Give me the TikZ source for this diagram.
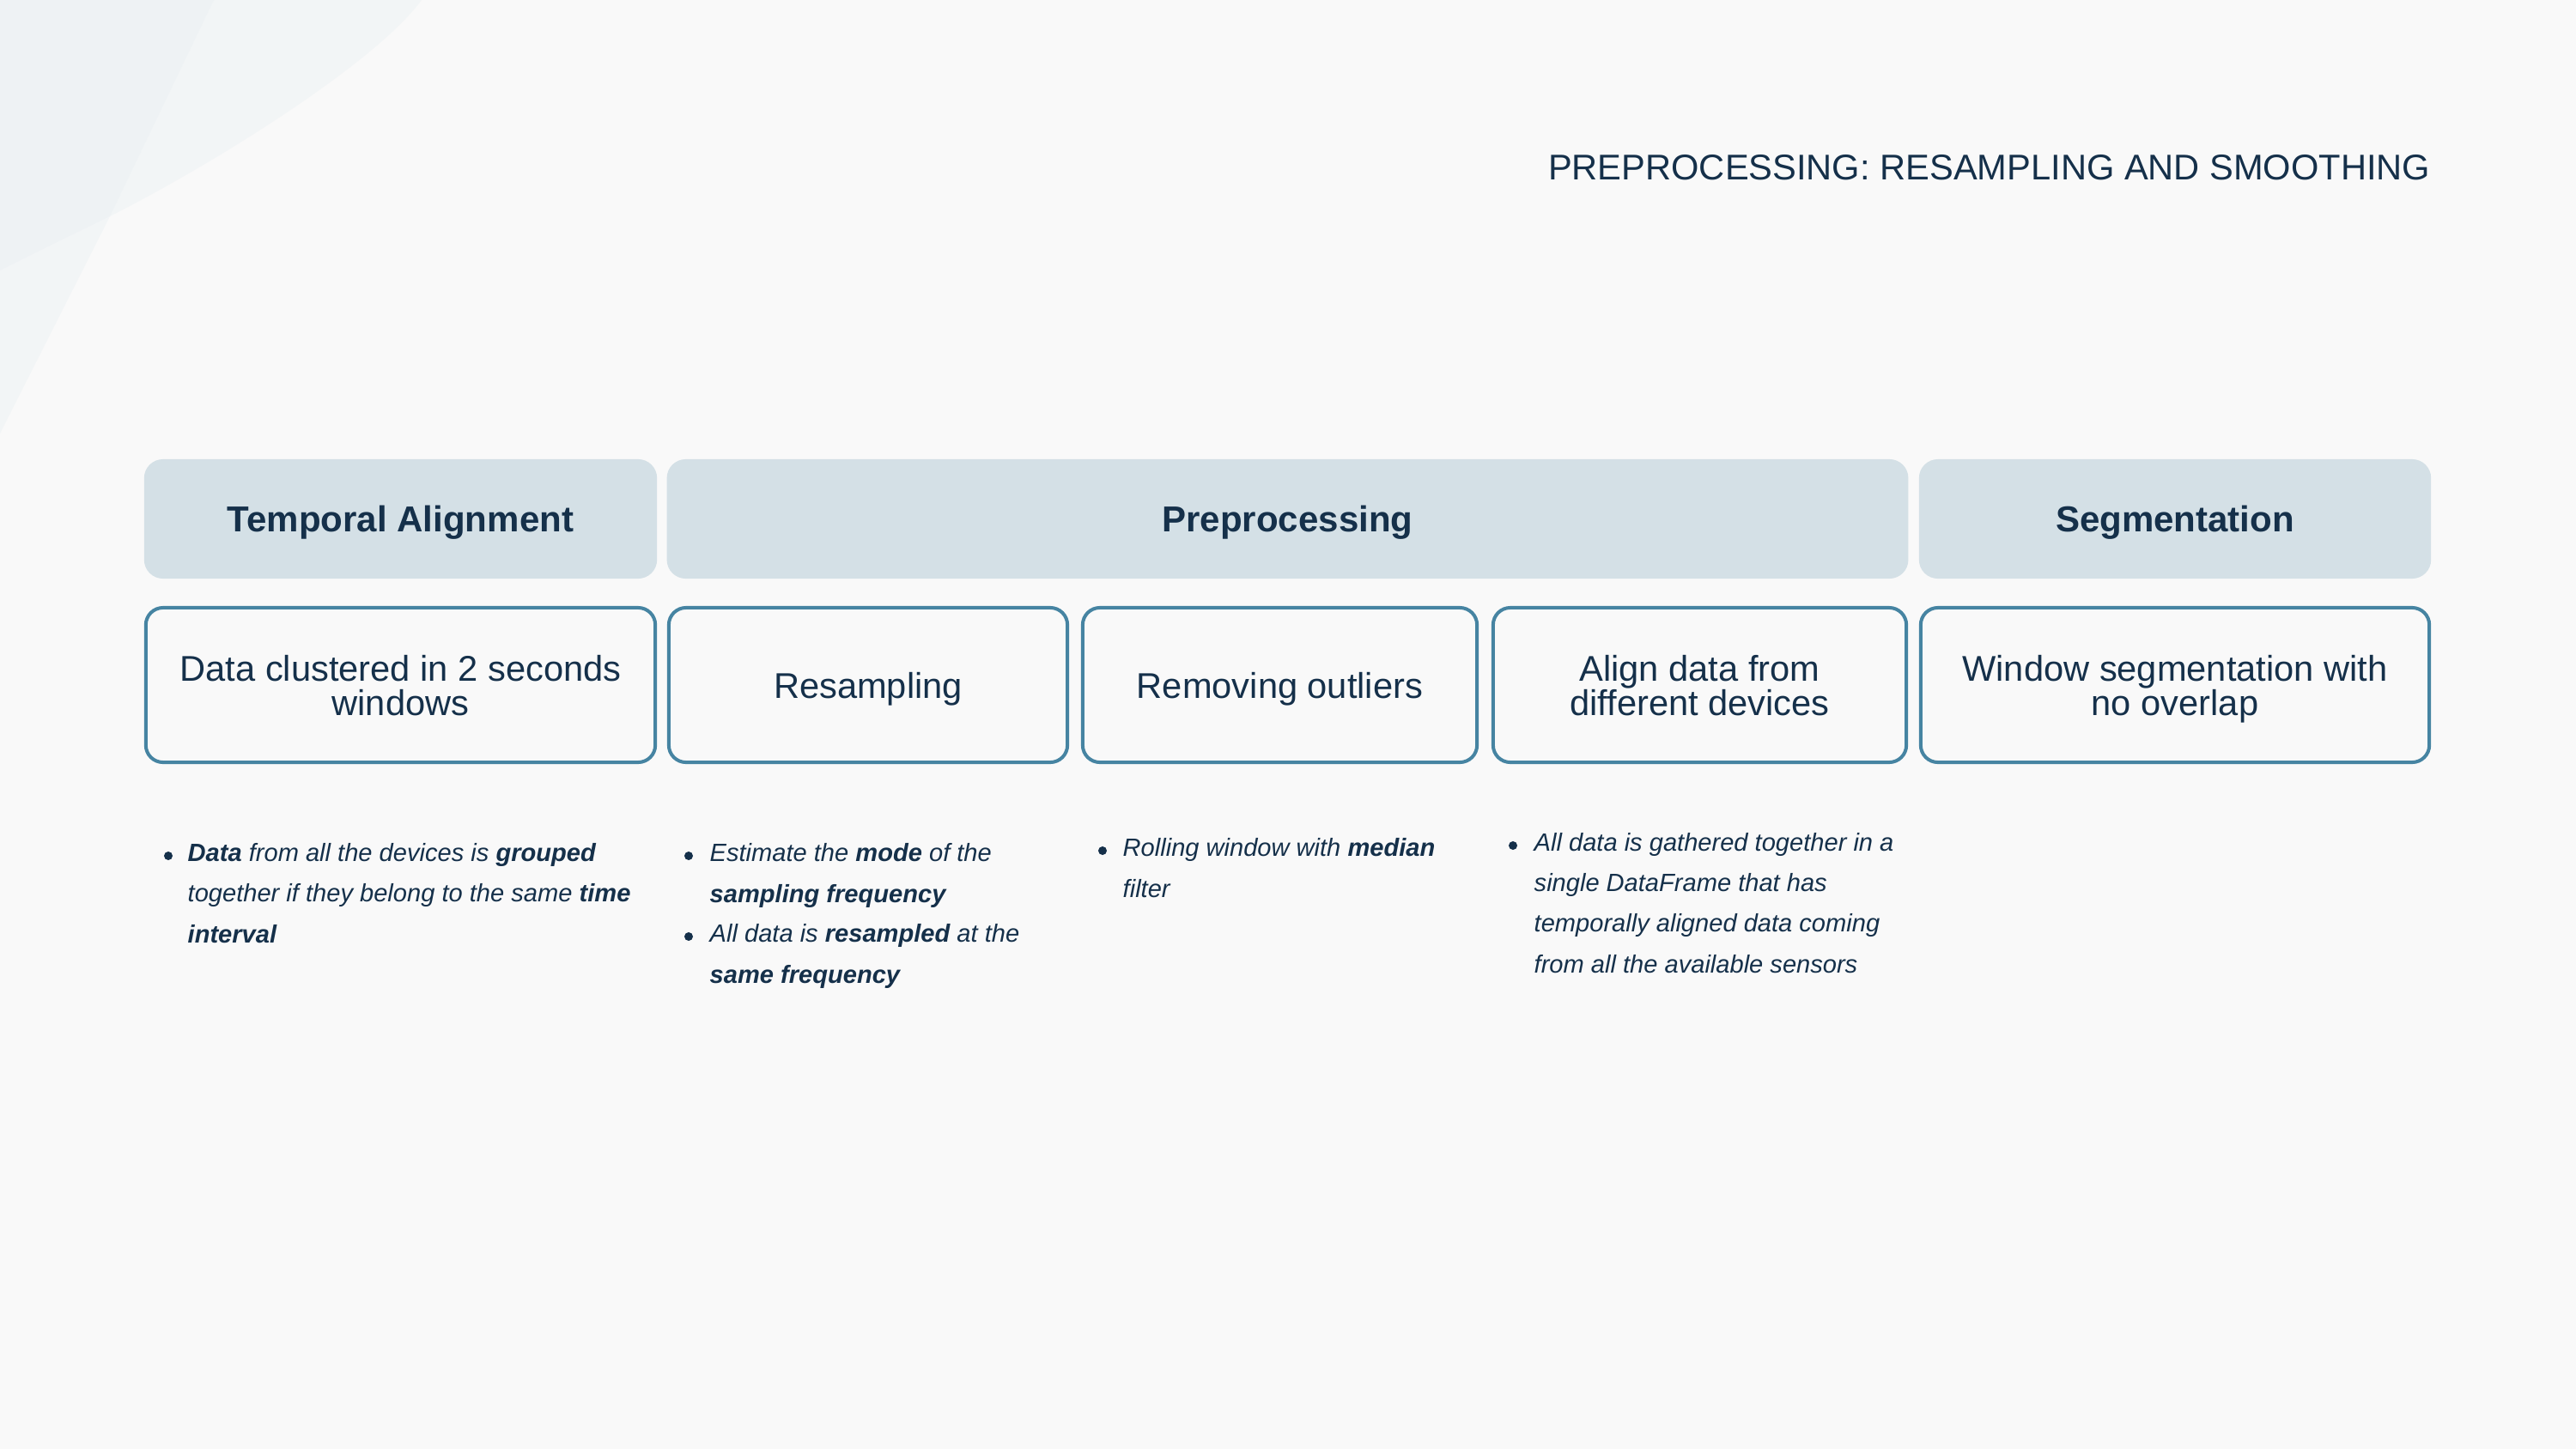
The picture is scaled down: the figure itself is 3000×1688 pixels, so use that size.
\documentclass[tikz,border=0pt]{standalone}
\usepackage{fontspec}
\setmainfont{Liberation Sans}

\definecolor{pagebg}{HTML}{F9F9F9}
\definecolor{wash}{HTML}{E9EFF3}
\definecolor{ink}{HTML}{15304A}
\definecolor{headfill}{HTML}{D4E0E6}
\definecolor{stepline}{HTML}{4684A2}

% keep the last line of a box label from adding descender depth
\newcommand{\flatline}[1]{\raisebox{0pt}[\height][0pt]{#1}}

\begin{document}
\begin{tikzpicture}[
  x=0.01cm, y=-0.01cm,
  headbox/.style={fill=headfill, rounded corners=0.22cm, minimum height=1.39cm,
    inner sep=0pt, text=ink, text depth=0pt,
    font=\bfseries\fontsize{11.95pt}{11.4pt}\selectfont},
  stepbox/.style={draw=stepline, line width=0.04cm, rounded corners=0.2cm,
    minimum height=1.8cm, inner sep=0pt, align=center, text=ink,
    font=\fontsize{11.84pt}{11.38pt}\selectfont},
  % notes are placed by the baseline of their last line
  notetext/.style={anchor=base west, align=left, inner sep=0pt, text=ink,
    font=\itshape\fontsize{8.27pt}{13.37pt}\selectfont},
  bulletdot/.style={circle, fill=ink, minimum size=0.1cm, inner sep=0pt},
]
% page
\path[use as bounding box, fill=pagebg] (0,0) rectangle (3000,1688);

% soft shapes in the upper left corner
\fill[wash, opacity=0.4] (0,0) -- (491,0)
  .. controls (440,70) and (260,185) .. (128,252)
  .. controls (85,273) and (40,295) .. (0,315) -- cycle;
\fill[wash, opacity=0.4] (0,0) -- (249,0) -- (128,252) -- (0,505) -- cycle;

% title
\node[anchor=base east, inner sep=0pt, text=ink,
  font=\fontsize{11.84pt}{14pt}\selectfont] (title) at (2831,209)
  {PREPROCESSING: RESAMPLING AND SMOOTHING};

% stage headers
\node[headbox, minimum width=5.97cm] (hTA) at (466.5,604.5) {Temporal Alignment};
\node[headbox, minimum width=14.45cm] (hPre) at (1499.5,604.5) {Preprocessing};
\node[headbox, minimum width=5.96cm] (hSeg) at (2533,604.5) {Segmentation};

% step boxes
\node[stepbox, minimum width=5.93cm] (s1) at (466.5,798)
  {Data clustered in 2 seconds\\\flatline{windows}};
\node[stepbox, minimum width=4.64cm] (s2) at (1011,798) {\flatline{Resampling}};
\node[stepbox, minimum width=4.59cm] (s3) at (1490.5,798) {\flatline{Removing outliers}};
\node[stepbox, minimum width=4.81cm] (s4) at (1979.5,798)
  {Align data from\\\flatline{different devices}};
\node[stepbox, minimum width=5.92cm] (s5) at (2533,798)
  {Window segmentation with\\\flatline{no overlap}};

% notes under the steps
\node[bulletdot] (b1) at (196,997) {};
\node[notetext] (n1) at (218,1098)
  {\textbf{Data} from all the devices is \textbf{grouped}\\
   together if they belong to the same \textbf{time}\\
   \textbf{interval}};

\node[bulletdot] (b2a) at (802,997) {};
\node[notetext] (n2a) at (826,1051)
  {Estimate the \textbf{mode} of the\\
   \textbf{sampling frequency}};
\node[bulletdot] (b2b) at (802,1091) {};
\node[notetext] (n2b) at (826,1145)
  {All data is \textbf{resampled} at the\\
   \textbf{same frequency}};

\node[bulletdot] (b3) at (1284,991) {};
\node[notetext] (n3) at (1307,1045)
  {Rolling window with \textbf{median}\\
   filter};

\node[bulletdot] (b4) at (1762,985) {};
\node[notetext] (n4) at (1786,1133)
  {All data is gathered together in a\\
   single DataFrame that has\\
   temporally aligned data coming\\
   from all the available sensors};
\end{tikzpicture}
\end{document}
